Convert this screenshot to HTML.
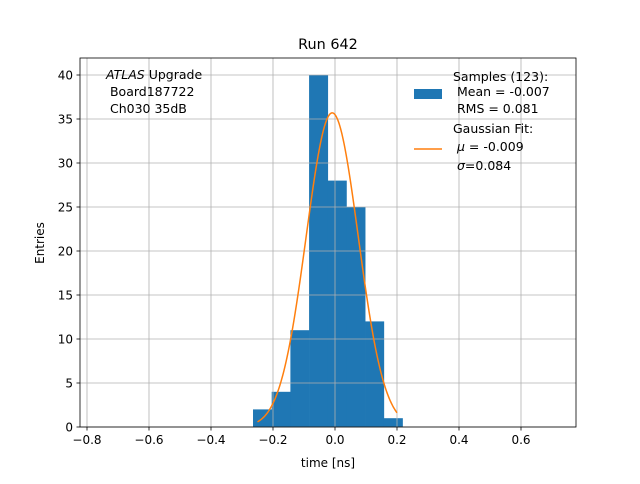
<!DOCTYPE html>
<html><head><meta charset="utf-8"><style>
body{margin:0;background:#fff;font-family:"DejaVu Sans","Liberation Sans",sans-serif;}
svg text{font-family:"DejaVu Sans","Liberation Sans",sans-serif;}
</style></head><body>
<svg id="chart" width="640" height="480" xmlns="http://www.w3.org/2000/svg">
<rect width="640" height="480" fill="#fff"/>
<g id="bars"></g><g id="grid"></g><g id="curve"></g><g id="axes"></g>
<text x="328" y="49" font-size="14.4" text-anchor="middle">Run 642</text>
<text x="328" y="467" font-size="12" text-anchor="middle">time [ns]</text>
<text transform="translate(44,243) rotate(-90)" font-size="12" text-anchor="middle">Entries</text>
<g font-size="12.5">
<text x="106" y="79"><tspan font-style="italic">ATLAS</tspan> Upgrade</text>
<text x="106" y="96" xml:space="preserve"> Board187722</text>
<text x="106" y="113" xml:space="preserve"> Ch030 35dB</text>
</g>
<g font-size="12.5">
<rect x="414" y="89" width="28" height="10" fill="#1f77b4"/>
<text x="453" y="81">Samples (123):</text>
<text x="453" y="96" xml:space="preserve"> Mean = -0.007</text>
<text x="453" y="113" xml:space="preserve"> RMS = 0.081</text>
<line x1="414" y1="149" x2="442" y2="149" stroke="#ff7f0e" stroke-width="1.5"/>
<text x="453" y="133">Gaussian Fit:</text>
<text x="453" y="151" xml:space="preserve"> <tspan font-style="italic">μ</tspan> = -0.009</text>
<text x="453" y="170" xml:space="preserve"> <tspan font-style="italic">σ</tspan>=0.084</text>
</g>
</svg>
<script>
const binStart = -0.2645;
const binWidth = 0.0603;
const counts = [2, 4, 11, 40, 28, 25, 12, 1];
const xTicks = [-0.8, -0.6, -0.4, -0.2, 0.0, 0.2, 0.4, 0.6];
const xTickLabels = ["−0.8", "−0.6", "−0.4", "−0.2", "0.0", "0.2", "0.4", "0.6"];
const yTicks = [0, 5, 10, 15, 20, 25, 30, 35, 40];
const fitMu = -0.009;
const fitSigma = 0.084;
const fitPeak = 35.7;
const fitRange = [-0.25, 0.2];

const L = 80, R = 576, T = 58, B = 427;
const xs = v => 335 + v * 310;
const ys = v => 427 - v * 8.8;
const NS = "http://www.w3.org/2000/svg";
function mk(tag, attrs, parent) { const e = document.createElementNS(NS, tag); for (const k in attrs) e.setAttribute(k, attrs[k]); parent.appendChild(e); return e; }
const grid = document.getElementById('grid'), bars = document.getElementById('bars'), curve = document.getElementById('curve'), axes = document.getElementById('axes');
xTicks.forEach((t, i) => {
  const x = xs(t);
  const g = mk('line', {x1: x, x2: x, y1: T, y2: B, stroke: '#b0b0b0', 'stroke-width': 0.8}, grid);
  
  
  mk('line', {x1: x, x2: x, y1: B, y2: B + 3.5, stroke: '#000', 'stroke-width': 0.8}, axes);
  const tx = mk('text', {x: x, y: B + 17, 'font-size': 12, 'text-anchor': 'middle'}, axes);
  tx.textContent = xTickLabels[i];
  
  
});
yTicks.forEach(t => {
  const y = ys(t);
  const g = mk('line', {x1: L, x2: R, y1: y, y2: y, stroke: '#b0b0b0', 'stroke-width': 0.8}, grid);
  
  
  mk('line', {x1: L - 3.5, x2: L, y1: y, y2: y, stroke: '#000', 'stroke-width': 0.8}, axes);
  const tx = mk('text', {x: L - 7, y: y + 4.5, 'font-size': 12, 'text-anchor': 'end'}, axes);
  tx.textContent = String(t);
  
  
});
counts.forEach((c, i) => {
  const x0 = xs(binStart + i * binWidth), x1 = xs(binStart + (i + 1) * binWidth);
  const r = mk('rect', {x: x0, y: ys(c), width: x1 - x0 + 0.3, height: ys(0) - ys(c), fill: '#1f77b4'}, bars);
  
  
});
let d = '';
for (let i = 0; i <= 200; i++) {
  const v = fitRange[0] + (fitRange[1] - fitRange[0]) * i / 200;
  const yv = fitPeak * Math.exp(-0.5 * Math.pow((v - fitMu) / fitSigma, 2));
  d += (i ? 'L' : 'M') + xs(v).toFixed(2) + ',' + ys(yv).toFixed(2);
}
const p = mk('path', {d: d, fill: 'none', stroke: '#ff7f0e', 'stroke-width': 1.5}, curve);


const fr = mk('rect', {x: L, y: T, width: R - L, height: B - T, fill: 'none', stroke: '#000', 'stroke-width': 0.8}, axes);


</script>
</body></html>
